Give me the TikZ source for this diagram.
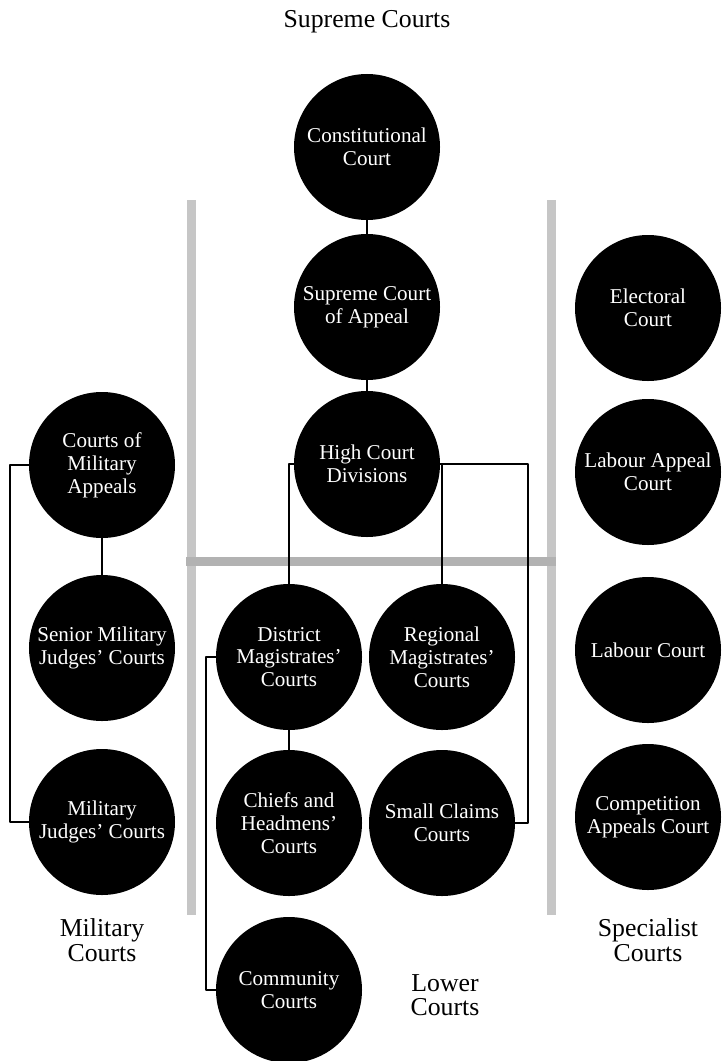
\documentclass[tikz,border=0pt]{standalone}
\usepackage{fontspec}
\setmainfont{Liberation Serif}
\begin{document}
\begin{tikzpicture}[x=0.03cm,y=-0.03cm,line join=round,line cap=round]
                \tikzset{court/.style={circle,fill=black,text=white,minimum size=4.38cm,inner sep=0pt,align=center,font=\fontsize{18}{19.5}\selectfont}}
                \tikzset{group/.style={align=center,font=\fontsize{22}{21}\selectfont}}
                \tikzset{bar/.style={line width=0.27cm,line cap=butt,color=gray!45}}
                \tikzset{link/.style={line width=1.5pt,line cap=butt}}
                \def \xl{102}
                \def \xm{367}
                \def \xr{648}
                \useasboundingbox (0,0) rectangle (722,1061);
                % grey frame of the lower courts
                \draw[bar] (191,200)--(191,915) (551,200)--(551,915);
                \draw[bar,color=gray!60] (186,561)--(556,561);
                % supreme courts
                \node[group] (sup) at (\xm,22) {Supreme Courts};
                \node[court] (ccourt) at (\xm,147) {Constitutional\\Court};
                \node[court] (sca) at (\xm,307) {Supreme Court\\of Appeal};
                \node[court] (hcd) at (\xm,464) {High Court\\Divisions};
                % military courts
                \node[court] (cma) at (\xl,465) {Courts of\\Military\\Appeals};
                \node[court] (smj) at (\xl,648) {Senior Military\\Judges' Courts};
                \node[court] (mjc) at (\xl,822) {Military\\Judges' Courts};
                \node[group] (mil) at (\xl,940) {Military\\Courts};
                % lower courts
                \node[court] (dmc) at (289,657) {District\\Magistrates'\\Courts};
                \node[court] (rmc) at (442,657) {Regional\\Magistrates'\\Courts};
                \node[court] (chc) at (289,823) {Chiefs and\\Headmens'\\Courts};
                \node[court] (scc) at (442,823) {Small Claims\\Courts};
                \node[court] (comm) at (289,990) {Community\\Courts};
                \node[group] (low) at (445,995) {Lower\\Courts};
                % specialist courts
                \node[court] (elc) at (\xr,308) {Electoral\\Court};
                \node[court] (lac) at (\xr,472) {Labour Appeal\\Court};
                \node[court] (lbc) at (\xr,650) {Labour Court};
                \node[court] (cac) at (\xr,817) {Competition\\Appeals Court};
                \node[group] (spc) at (\xr,940) {Specialist\\Courts};
                % links
                \coordinate (lb) at (10,465);
                \coordinate (db) at (206,657);
                \coordinate (rb) at (528,464);
                \draw[link] (ccourt)--(sca) (sca)--(hcd);
                \draw[link] (cma)--(smj) (cma.west)--(lb)|-(mjc.west);
                \draw[link] (hcd.west)-|(dmc.north) (hcd.east)-|(rmc.north) (hcd.east)--(rb)|-(scc.east);
                \draw[link] (dmc)--(chc) (dmc.west)--(db)|-(comm.west);
            \end{tikzpicture}
\end{document}
